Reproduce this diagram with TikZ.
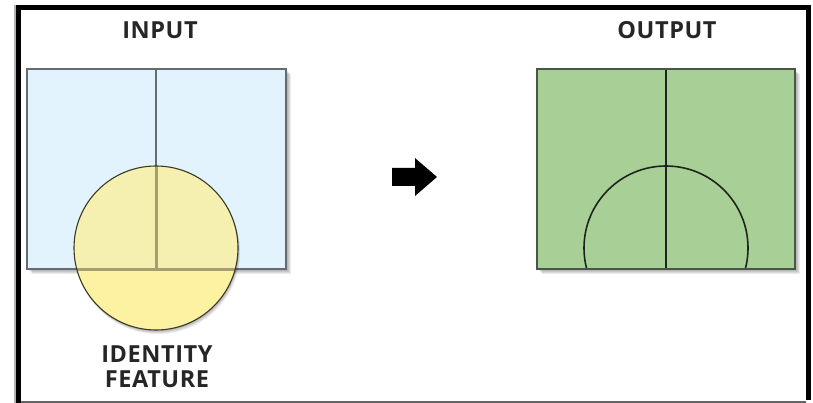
\documentclass[tikz,border=0pt]{standalone}
\usepackage{fontspec}
\setmainfont{Open Sans}
\definecolor{inblue}{RGB}{227,243,253}
\definecolor{inedge}{RGB}{100,108,114}
\definecolor{circtop}{RGB}{245,240,176}
\definecolor{circbot}{RGB}{253,241,162}
\definecolor{khaki}{RGB}{166,160,112}
\definecolor{circedge}{RGB}{58,56,38}
\definecolor{outgreen}{RGB}{168,208,150}
\definecolor{outedge}{RGB}{72,86,72}
\definecolor{outline}{RGB}{28,36,28}
\definecolor{framegray}{RGB}{100,100,100}
\tikzset{
  label text/.style={font=\bfseries\fontsize{23.5}{25}\selectfont\addfontfeature{LetterSpace=2.5},
    text=black!85, inner sep=0pt, align=center},
  softshadow/.style={fill=black, opacity=0.08},
}
\begin{document}
\begin{tikzpicture}[x=1pt,y=-1pt]
\useasboundingbox (0,0) rectangle (813,403);
\fill[white] (0,0) rectangle (813,403);

% outer frame
\fill[black] (15,5) rectangle (811,10.5);
\fill[black!30] (14,5) rectangle (15.5,403);
\fill[black] (15.5,5) rectangle (20.5,403);
\fill[black] (805.5,5) rectangle (811,400);
\fill[framegray] (20.5,400.5) rectangle (805.5,403);

% input polygons: shadow, fill, edges
\foreach \d in {1,2,3,4,5}
  \fill[softshadow] (27+\d,69+\d) rectangle (286+\d,269+\d);
\draw[inedge, line width=2.4pt, fill=inblue] (27,69) rectangle (286,269);
\draw[inedge, line width=2.4pt] (156,69) -- (156,269);

% identity feature circle
\foreach \d in {1,2,3,4}
  \fill[softshadow] (156+0.5*\d,248+\d) circle (82);
\begin{scope}
  \clip (156,248) circle (82);
  \fill[circtop] (60,160) rectangle (260,269);
  \fill[circbot] (60,269) rectangle (260,340);
  \draw[khaki, line width=3pt] (156,160) -- (156,269);
  \draw[khaki, line width=3pt] (60,269) -- (260,269);
\end{scope}
\draw[circedge, line width=1.1pt] (156,248) circle (82);

% output polygons
\foreach \d in {1,2,3,4,5}
  \fill[softshadow] (537+\d,69+\d) rectangle (795+\d,269+\d);
\draw[outedge, line width=2pt, fill=outgreen] (537,69) rectangle (795,269);
\begin{scope}
  \clip (537,69) rectangle (795,269);
  \draw[outline, line width=1.6pt] (666,248) circle (82);
\end{scope}
\draw[outline, line width=1.6pt] (666,70) -- (666,268);
\draw[outedge, line width=2.2pt] (537,69) rectangle (795,269);

% process arrow
\fill[black] (392,168) -- (415,168) -- (415,158) -- (437,177) -- (415,196)
  -- (415,186) -- (392,186) -- cycle;

% labels
\node[label text] (input) at (160,30) {INPUT};
\node[label text] (output) at (667,30) {OUTPUT};
\node[label text] (identity) at (157,367) {IDENTITY\\FEATURE};
\end{tikzpicture}
\end{document}
